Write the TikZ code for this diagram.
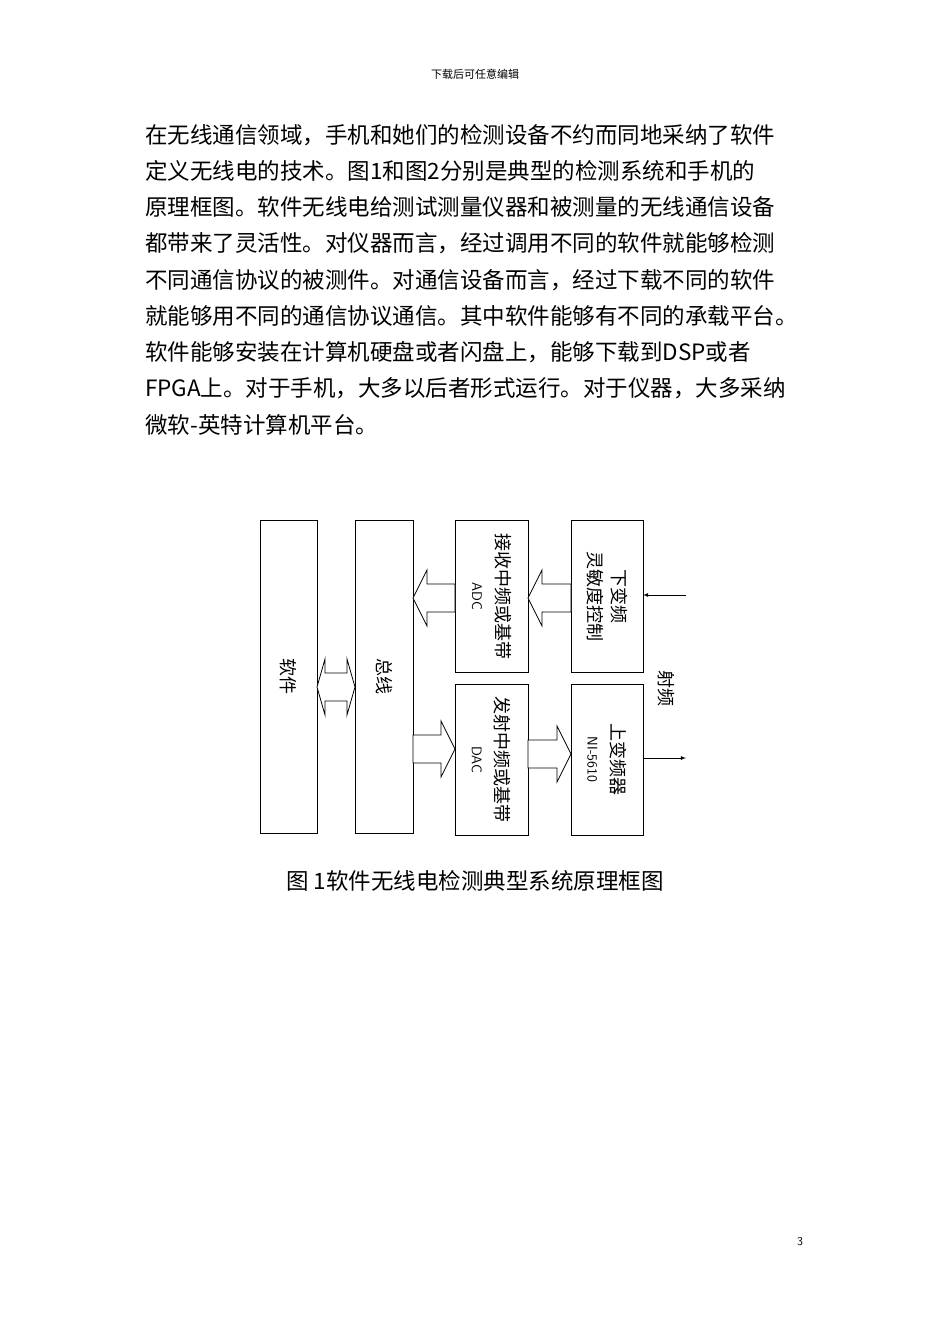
\documentclass[tikz,border=0pt]{standalone}
\usepackage{fontspec}
\setmainfont{Liberation Serif}
\newfontfamily\cjk{Noto Sans CJK SC}
\begin{document}
\begin{tikzpicture}[x=1pt,y=-1pt,
  blk/.style={draw,thick,inner sep=0pt},
  vt/.style={rotate=-90,font=\cjk\fontsize{18}{24}\selectfont,align=center},
  para/.style={anchor=west,inner sep=0pt,font=\cjk\fontsize{22.5}{27}\selectfont},
  hol/.style={draw,thick,fill=white,line join=miter}]
\useasboundingbox (0,0) rectangle (950,1344);
\node[font=\cjk\fontsize{11}{13}\selectfont] (hdr) at (475,74) {下载后可任意编辑};
\foreach \t [count=\i] in {在无线通信领域，手机和她们的检测设备不约而同地采纳了软件,
定义无线电的技术。图1和图2分别是典型的检测系统和手机的,
原理框图。软件无线电给测试测量仪器和被测量的无线通信设备,
都带来了灵活性。对仪器而言，经过调用不同的软件就能够检测,
不同通信协议的被测件。对通信设备而言，经过下载不同的软件,
就能够用不同的通信协议通信。其中软件能够有不同的承载平台。,
软件能够安装在计算机硬盘或者闪盘上，能够下载到DSP或者,
FPGA上。对于手机，大多以后者形式运行。对于仪器，大多采纳,
微软-英特计算机平台。}
  \node[para] (p\i) at (145,{135+36.2*(\i-1)}) {\t};
% boxes
\draw[blk] (260,520) rectangle (317,833) node[pos=.5,vt] (sw) {软件};
\draw[blk] (355,520) rectangle (413,833) node[pos=.5,vt] (bus) {总线};
\draw[blk] (455,520) rectangle (528,672) node[pos=.5,vt] (rx) {接收中频或基带\\{\sffamily\fontsize{14}{24}\selectfont ADC}};
\draw[blk] (571,520) rectangle (643,672) node[pos=.5,vt] (dn) {下变频\\灵敏度控制};
\draw[blk] (455,684) rectangle (528,835) node[pos=.5,vt] (tx) {发射中频或基带\\{\sffamily\fontsize{14}{24}\selectfont DAC}};
\draw[blk] (571,684) rectangle (643,835) node[pos=.5,vt] (up) {上变频器\\{\sffamily\fontsize{14}{24}\selectfont NI-5610}};
% hollow arrows
\draw[hol] (571,584)--(542,584)--(542,570)--(528,598)--(542,626)--(542,612)--(571,612)--cycle;
\draw[hol] (455,584)--(427,584)--(427,570)--(413,598)--(427,626)--(427,612)--(455,612)--cycle;
\draw[hol] (413,735)--(441,735)--(441,721)--(455,749)--(441,777)--(441,763)--(413,763)--cycle;
\draw[hol] (528,740)--(557,740)--(557,726)--(571,754)--(557,782)--(557,768)--(528,768)--cycle;
\draw[hol] (317,687)--(325,659)--(325,673)--(347,673)--(347,659)--(355,687)--(347,715)--(347,701)--(325,701)--(325,715)--cycle;
% RF
\coordinate (rin) at (686,595);
\coordinate (rout) at (686,758);
\draw[thick,-latex] (rin) -- (643,595);
\draw[thick,-latex] (643,758) -- (rout);
\node[vt] (rf) at (666,688) {射频};
\node[font=\cjk\fontsize{22.5}{27}\selectfont] (cap) at (475,881) {图\ 1软件无线电检测典型系统原理框图};
\node[font=\sffamily\fontsize{12}{14}\selectfont] (pg) at (800,1242) {3};
\end{tikzpicture}
\end{document}
